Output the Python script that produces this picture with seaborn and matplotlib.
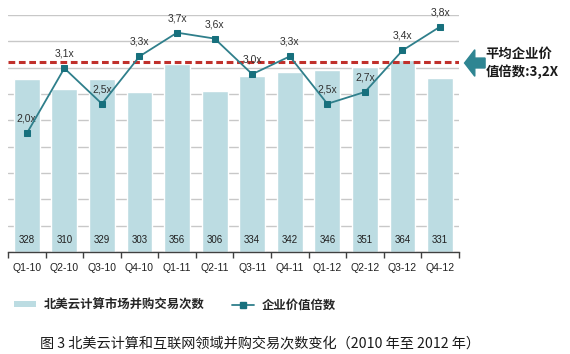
"""
North America cloud computing M&A deal count vs EV multiple, 2010-2012.
"""

import matplotlib

matplotlib.use("Agg")

import matplotlib.pyplot as plt
import numpy as np
import pandas as pd
import seaborn as sns
from matplotlib.lines import Line2D
from matplotlib.patches import Patch

quarters = ["Q1-10", "Q2-10", "Q3-10", "Q4-10", "Q1-11", "Q2-11",
            "Q3-11", "Q4-11", "Q1-12", "Q2-12", "Q3-12", "Q4-12"]
deal_counts = [328, 310, 329, 303, 356, 306, 334, 342, 346, 351, 364, 331]
ev_multiples = [2.0, 3.1, 2.5, 3.3, 3.7, 3.6, 3.0, 3.3, 2.5, 2.7, 3.4, 3.8]
avg_multiple = 3.2

bar_label = "北美云计算市场并购交易次数"
line_label = "企业价值倍数"
avg_text = "平均企业价\n值倍数:3,2X"
caption = "图 3 北美云计算和互联网领域并购交易次数变化（2010 年至 2012 年）"

BAR_COLOR = "#BCDCE2"
LINE_COLOR = "#2F7F8B"
MARKER_COLOR = "#17707D"
RED = "#C0302B"

sns.set_theme(style="white")
plt.rcParams["font.family"] = ["Liberation Sans", "Noto Sans CJK SC", "DejaVu Sans"]

df = pd.DataFrame({"quarter": quarters, "deals": deal_counts, "multiple": ev_multiples})
x = np.arange(len(quarters))

fig = plt.figure(figsize=(5.7, 3.54), dpi=100)
ax = fig.add_axes([0.014, 0.288, 0.791, 0.670])

sns.barplot(data=df, x="quarter", y="deals", color=BAR_COLOR, saturation=1,
            width=0.69, ax=ax, zorder=2)
ax.set_ylim(0, 450)
ax.set_xlim(-0.5, len(quarters) - 0.5)
ax.set_yticks(np.arange(0, 451, 50))
ax.set_yticklabels([])
ax.yaxis.grid(True, color="#C8C8C8", lw=1.0, zorder=0)
ax.set_axisbelow(True)
ax.set_xlabel("")
ax.set_ylabel("")
for side in ["left", "right", "top"]:
    ax.spines[side].set_visible(False)
ax.spines["bottom"].set_color("#404040")
ax.spines["bottom"].set_linewidth(1.0)
ax.tick_params(axis="x", which="major", length=0, labelsize=7.5, pad=8,
               colors="#202020")
ax.tick_params(axis="y", length=0)
ax.set_xticks(np.arange(-0.5, len(quarters)), minor=True)
ax.tick_params(axis="x", which="minor", length=4, width=1, color="#404040",
               bottom=True)

for i, v in enumerate(deal_counts):
    ax.annotate(str(v), (i, 0), xytext=(0, 8.5), textcoords="offset points",
                ha="center", va="center", fontsize=7, color="#202020", zorder=5)

ax2 = ax.twinx()
ax2.set_ylim(0, 4)
ax2.axhline(avg_multiple, color=RED, ls=(0, (2.2, 1.2)), lw=2.2, zorder=3)
sns.lineplot(x=x, y=ev_multiples, ax=ax2, color=LINE_COLOR, lw=1.3,
             marker="s", markersize=4, markeredgecolor=MARKER_COLOR,
             markerfacecolor=MARKER_COLOR, zorder=4)
ax2.set_yticks([])
ax2.set_ylabel("")
for side in ax2.spines:
    ax2.spines[side].set_visible(False)

for i, v in enumerate(ev_multiples):
    ax2.annotate(f"{v:.1f}x".replace(".", ","), (i, v), xytext=(0, 10.5),
                 textcoords="offset points", ha="center", va="center",
                 fontsize=7.5, color="#303030")

# average callout with block arrow
fig.patches.append(matplotlib.patches.FancyArrow(
    0.851, 0.822, -0.036, 0, width=0.028, head_width=0.075, head_length=0.018,
    length_includes_head=True, color="#2E8592", transform=fig.transFigure))
fig.text(0.852, 0.822, avg_text, ha="left", va="center", fontsize=9.6,
         fontweight="bold", linespacing=1.35, color="#1A1A1A",
         family=["Noto Sans CJK SC", "DejaVu Sans"])

handles = [
    Patch(facecolor=BAR_COLOR, edgecolor="none"),
    Line2D([0], [0], color=LINE_COLOR, lw=1.3, marker="s", markersize=4,
           markerfacecolor=MARKER_COLOR, markeredgecolor=MARKER_COLOR),
]
fig.legend(handles, [bar_label, line_label], loc="center left",
           bbox_to_anchor=(0.005, 0.138), ncol=2, frameon=False,
           handlelength=1.8, handleheight=0.4, handletextpad=0.6,
           columnspacing=2.2, prop={"family": ["Noto Sans CJK SC"],
                                    "weight": "bold", "size": 8.9})

fig.text(0.07, 0.031, caption, ha="left", va="center", fontsize=10.2,
         color="#1A1A1A", family=["Noto Sans CJK SC", "DejaVu Sans"])

fig.savefig("out.png", dpi=100)
plt.close(fig)
